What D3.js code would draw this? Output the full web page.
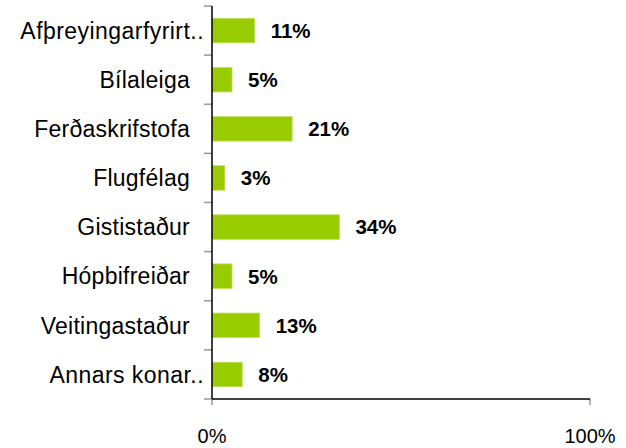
<!DOCTYPE html>
<html lang="en">
<head>
<meta charset="utf-8">
<script src="https://cdn.jsdelivr.net/npm/d3@7"></script>
<style>
    body { margin: 0; background: #fff; }
    text { font-family: Arial, "Liberation Sans", sans-serif; fill: #000; }
</style>
</head>
<body>
<script>
const categories = ["Afþreyingarfyrirt..", "Bílaleiga", "Ferðaskrifstofa", "Flugfélag",
                    "Gististaður", "Hópbifreiðar", "Veitingastaður", "Annars konar.."];
const values = [11.3, 5.3, 21.2, 3.4, 33.7, 5.3, 12.6, 8.0];
const valueLabels = ["11%", "5%", "21%", "3%", "34%", "5%", "13%", "8%"];
const xTicks = [0, 100];

const w = 626, h = 448;
const plotLeft = 212, plotRight = 590, plotTop = 6, plotBottom = 399;

const svg = d3.select("body").append("svg")
    .attr("width", w)
    .attr("height", h);

const xScale = d3.scaleLinear().domain([0, 100]).range([plotLeft, plotRight]);
const yScale = d3.scaleBand().domain(categories).range([plotTop, plotBottom]).paddingInner(0.5).paddingOuter(0.25);

// tick marks between categories
const bounds = d3.range(categories.length + 1).map(i => plotTop + i * (plotBottom - plotTop) / categories.length);
svg.selectAll("line.ytick")
    .data(bounds)
    .enter()
    .append("line")
    .attr("x1", plotLeft - 8).attr("x2", plotLeft)
    .attr("y1", d => d).attr("y2", d => d)
    .attr("stroke", "#999").attr("stroke-width", 1.5);

svg.selectAll("line.xtick")
    .data(xTicks)
    .enter()
    .append("line")
    .attr("x1", d => xScale(d)).attr("x2", d => xScale(d))
    .attr("y1", plotBottom).attr("y2", plotBottom + 6)
    .attr("stroke", "#999").attr("stroke-width", 1.5);

svg.selectAll("rect")
    .data(values)
    .enter()
    .append("rect")
    .attr("x", xScale(0))
    .attr("y", (d, i) => yScale(categories[i]))
    .attr("width", d => xScale(d) - xScale(0))
    .attr("height", yScale.bandwidth())
    .attr("fill", "#99cc00")
    .attr("stroke", "#c2e066")
    .attr("stroke-width", 0.8);

// axis lines
svg.append("line")
    .attr("x1", plotLeft).attr("x2", plotLeft).attr("y1", plotTop).attr("y2", plotBottom)
    .attr("stroke", "#000").attr("stroke-width", 1.5);
svg.append("line")
    .attr("x1", plotLeft).attr("x2", plotRight).attr("y1", plotBottom).attr("y2", plotBottom)
    .attr("stroke", "#000").attr("stroke-width", 1.5);

svg.selectAll("text.cat")
    .data(categories)
    .enter()
    .append("text")
    .attr("class", "cat")
    .attr("x", d => d.endsWith("..") ? 204 : 190)
    .attr("y", d => yScale(d) + yScale.bandwidth() / 2)
    .attr("dy", "0.36em")
    .attr("text-anchor", "end")
    .attr("font-size", "23px")
    .attr("letter-spacing", d => d.endsWith("..") ? "0.45px" : "0.25px")
    .text(d => d);

svg.selectAll("text.val")
    .data(values)
    .enter()
    .append("text")
    .attr("class", "val")
    .attr("x", d => xScale(d) + 16)
    .attr("y", (d, i) => yScale(categories[i]) + yScale.bandwidth() / 2)
    .attr("dy", "0.36em")
    .attr("font-size", "20.5px")
    .attr("font-weight", "bold")
    .text((d, i) => valueLabels[i]);

svg.selectAll("text.xlab")
    .data(xTicks)
    .enter()
    .append("text")
    .attr("class", "xlab")
    .attr("x", d => xScale(d))
    .attr("y", 443)
    .attr("text-anchor", "middle")
    .attr("font-size", "20px")
    .text(d => d + "%");
</script>
</body>
</html>
